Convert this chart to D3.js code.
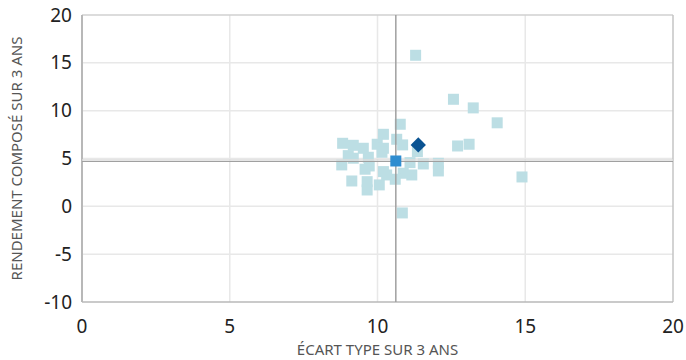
<!DOCTYPE html>
<html>
<head>
<meta charset="utf-8">
<script src="https://cdn.jsdelivr.net/npm/d3@7"></script>
<style>
  body { margin: 0; background: #fff; }
  text { font-family: 'Noto Sans', sans-serif; }
</style>
</head>
<body>
<svg id="chart" width="686" height="360"></svg>
<script>
// écart type (x) et rendement composé (y) sur 3 ans
const stdDev = [11.29, 12.57, 13.24, 14.05, 10.77, 10.20, 10.65, 8.82, 9.18, 9.52,
  9.99, 10.20, 10.15, 10.85, 11.35, 12.71, 13.10, 9.01, 9.18, 9.69,
  8.79, 9.72, 9.58, 10.20, 11.10, 11.55, 12.06, 12.06, 11.16, 10.87,
  10.60, 10.06, 9.13, 9.65, 9.65, 10.31, 10.84, 14.89]
const returns = [15.79, 11.19, 10.29, 8.73, 8.58, 7.53, 7.01, 6.59, 6.38, 6.07,
  6.49, 6.07, 5.65, 6.42, 5.72, 6.31, 6.49, 5.30, 5.03, 5.13,
  4.33, 4.22, 3.88, 3.63, 4.57, 4.43, 4.50, 3.70, 3.28, 3.46,
  2.83, 2.24, 2.65, 1.71, 2.58, 3.28, -0.69, 3.07]
const average = [10.62, 4.74]
const fund = [11.38, 6.42]
const xTicks = [0, 5, 10, 15, 20]
const yTicks = [-10, -5, 0, 5, 10, 15, 20]

const svg = d3.select('#chart')
const margin = {top: 15, right: 13, bottom: 58, left: 82}
const width = +svg.attr('width')
const height = +svg.attr('height')

const x = d3.scaleLinear().domain([0, 20]).range([margin.left, width - margin.right])
const y = d3.scaleLinear().domain([-10, 20]).range([height - margin.bottom, margin.top])

// grille
svg.append('g')
  .selectAll('line')
  .data(xTicks.slice(1, -1))
  .enter().append('line')
  .attr('x1', d => x(d)).attr('x2', d => x(d))
  .attr('y1', y(20)).attr('y2', y(-10))
  .attr('stroke', '#e8e8e8').attr('stroke-width', 1.5)

svg.append('g')
  .selectAll('line')
  .data(yTicks.slice(1, -1))
  .enter().append('line')
  .attr('x1', x(0)).attr('x2', x(20))
  .attr('y1', d => y(d)).attr('y2', d => y(d))
  .attr('stroke', '#e8e8e8').attr('stroke-width', 1.5)

// cadre
svg.append('line')
  .attr('x1', x(0)).attr('x2', x(20)).attr('y1', y(20)).attr('y2', y(20))
  .attr('stroke', '#d0d0d0').attr('stroke-width', 1.5)
svg.append('line')
  .attr('x1', x(20)).attr('x2', x(20)).attr('y1', y(20)).attr('y2', y(-10))
  .attr('stroke', '#c4c4c4').attr('stroke-width', 1.5)
svg.append('line')
  .attr('x1', x(0)).attr('x2', x(20)).attr('y1', y(-10)).attr('y2', y(-10))
  .attr('stroke', '#b8b8b8').attr('stroke-width', 1.5)
svg.append('line')
  .attr('x1', x(0)).attr('x2', x(0)).attr('y1', y(20)).attr('y2', y(-10))
  .attr('stroke', '#b8b8b8').attr('stroke-width', 2)

// points
const s = 11
svg.append('g')
  .selectAll('rect')
  .data(d3.zip(stdDev, returns))
  .enter().append('rect')
  .attr('x', d => x(d[0]) - s / 2)
  .attr('y', d => y(d[1]) - s / 2)
  .attr('width', s).attr('height', s)
  .attr('fill', '#bcdee4')

// lignes de moyenne
svg.append('line')
  .attr('x1', x(average[0])).attr('x2', x(average[0]))
  .attr('y1', y(20)).attr('y2', y(-10))
  .attr('stroke', '#a0a0a0').attr('stroke-width', 1.5)
svg.append('line')
  .attr('x1', x(0)).attr('x2', x(20))
  .attr('y1', y(average[1]) - 1).attr('y2', y(average[1]) - 1)
  .attr('stroke', '#dcdcdc').attr('stroke-width', 1.5)
svg.append('line')
  .attr('x1', x(0)).attr('x2', x(20))
  .attr('y1', y(average[1]) + 0.5).attr('y2', y(average[1]) + 0.5)
  .attr('stroke', '#a0a0a0').attr('stroke-width', 1.2)

svg.append('rect')
  .attr('x', x(average[0]) - s / 2)
  .attr('y', y(average[1]) - s / 2)
  .attr('width', s).attr('height', s)
  .attr('fill', '#2f8dd0')

svg.append('path')
  .attr('d', d3.symbol(d3.symbolDiamond2, 150)())
  .attr('transform', `translate(${x(fund[0])},${y(fund[1])})`)
  .attr('fill', '#0a5392')

// étiquettes des axes
svg.append('g')
  .selectAll('text')
  .data(xTicks)
  .enter().append('text')
  .attr('x', d => x(d))
  .attr('y', height - margin.bottom + 31)
  .attr('text-anchor', 'middle')
  .attr('font-size', 19)
  .attr('fill', '#222')
  .text(d => d)

svg.append('g')
  .selectAll('text')
  .data(yTicks)
  .enter().append('text')
  .attr('x', margin.left - 10)
  .attr('y', d => y(d) + 6.5)
  .attr('text-anchor', 'end')
  .attr('font-size', 19)
  .attr('fill', '#222')
  .text(d => d)

svg.append('text')
  .attr('x', (x(0) + x(20)) / 2)
  .attr('y', 355)
  .attr('text-anchor', 'middle')
  .attr('font-size', 15)
  .attr('fill', '#555')
  .text('ÉCART TYPE SUR 3 ANS')

svg.append('text')
  .attr('transform', `translate(22,${(y(20) + y(-10)) / 2}) rotate(-90)`)
  .attr('text-anchor', 'middle')
  .attr('font-size', 15)
  .attr('fill', '#555')
  .text('RENDEMENT COMPOSÉ SUR 3 ANS')
</script>
</body>
</html>
